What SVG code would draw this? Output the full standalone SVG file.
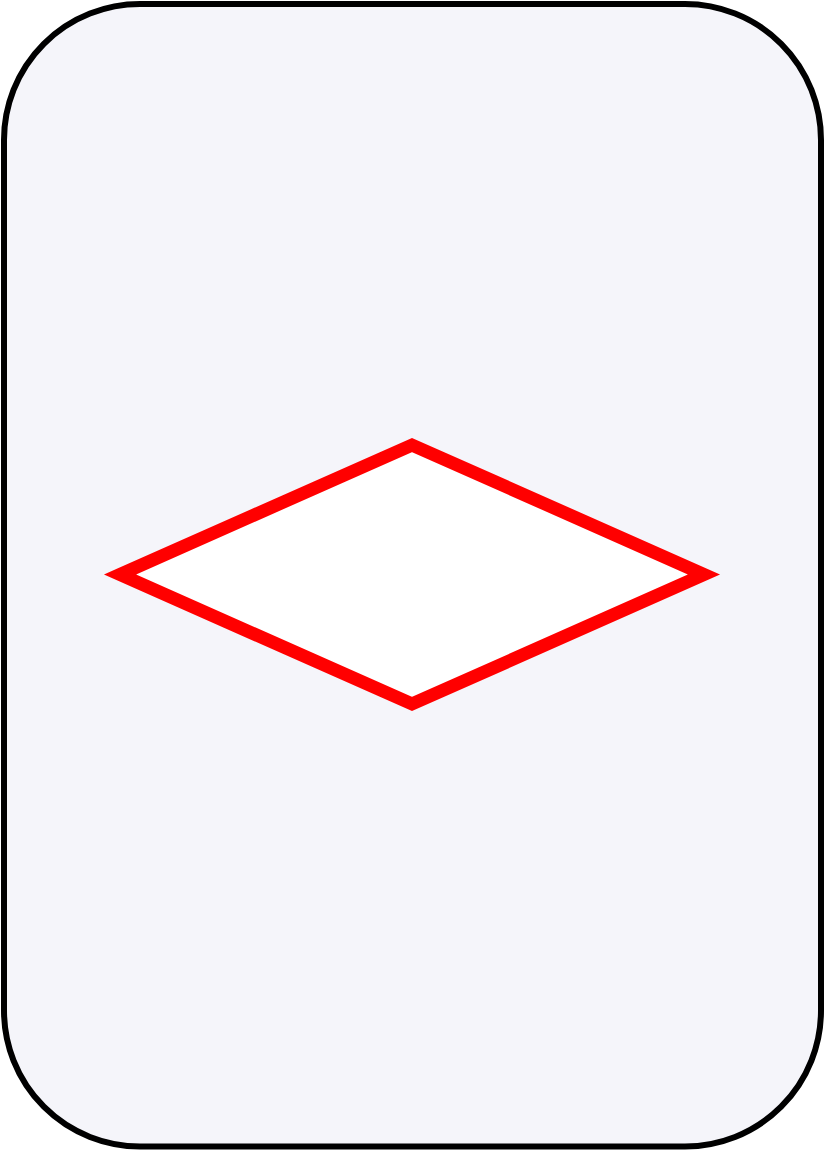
<svg xmlns="http://www.w3.org/2000/svg" width="825" height="1151" viewBox="0 0 825 1151">
  <style>
    .frame { fill: #f5f5fa; stroke: #000000; stroke-width: 6; }
    .decision { fill: #ffffff; stroke: #ff0000; stroke-width: 13; stroke-linejoin: miter; stroke-miterlimit: 10; }
  </style>
  <g id="frame">
    <rect class="frame" x="4" y="4" width="817" height="1142.5" rx="136" ry="136"/>
  </g>
  <g id="diamond">
    <polygon class="decision" points="120,574.5 412,445 704,574.5 412,704"/>
  </g>
  <g id="connectors"></g>
</svg>
